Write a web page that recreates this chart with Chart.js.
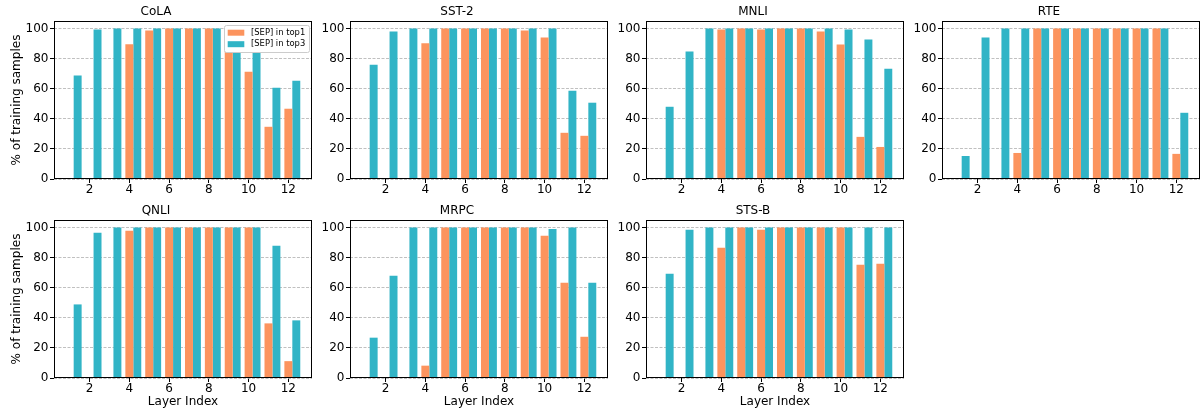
<!DOCTYPE html>
<html><head><meta charset="utf-8">
<script src="https://cdn.jsdelivr.net/npm/chart.js@4/dist/chart.umd.min.js"></script>
<style>
html,body{margin:0;padding:0;background:#fff;}
body{width:1204px;height:418px;position:relative;overflow:hidden;}
canvas{position:absolute;}
</style></head><body>
<script>
// ---- data ----
const layers = [1,2,3,4,5,6,7,8,9,10,11,12];
const xTicks = [2,4,6,8,10,12];
const yTicks = [0,20,40,60,80,100];
const seriesNames = ['[SEP] in top1','[SEP] in top3'];
const taskNames = ['CoLA','SST-2','MNLI','RTE','QNLI','MRPC','STS-B'];

const colaTop1 = [0,0,0,89.5,98.7,100,100,100,96,71.3,34.7,46.7];
const colaTop3 = [68.7,99.3,100,100,100,100,100,100,100,98,60.7,65.3];
const sst2Top1 = [0,0,0,90.2,100,100,100,100,98.7,94,30.7,28.7];
const sst2Top3 = [76,98,100,100,100,100,100,100,100,100,58.7,50.7];
const mnliTop1 = [0,0,0,99.3,100,99.3,100,100,98,89.3,28,21.3];
const mnliTop3 = [48,84.7,100,100,100,100,100,100,100,99.3,92.7,73.3];
const rteTop1 = [0,0,0,17.3,100,100,100,100,100,100,100,16.7];
const rteTop3 = [15.3,94,100,100,100,100,100,100,100,100,100,44];
const qnliTop1 = [0,0,0,97.8,100,100,100,100,100,100,36.3,11.2];
const qnliTop3 = [48.9,96.5,100,100,100,100,100,100,100,100,87.9,38.3];
const mrpcTop1 = [0,0,0,8.2,100,100,100,100,100,94.5,63.3,27.4];
const mrpcTop3 = [26.8,67.9,100,100,100,100,100,100,100,99.1,100,63.3];
const stsbTop1 = [0,0,0,86.5,100,98.5,100,100,100,100,75.2,75.9];
const stsbTop3 = [69.2,98.5,100,100,100,100,100,100,100,100,100,100];

const top1Series = [colaTop1, sst2Top1, mnliTop1, rteTop1, qnliTop1, mrpcTop1, stsbTop1];
const top3Series = [colaTop3, sst2Top3, mnliTop3, rteTop3, qnliTop3, mrpcTop3, stsbTop3];

// ---- style ----
const ORANGE = '#fc945e';
const TEAL = '#31b4c6';
const FAMILY = '"DejaVu Sans", "Liberation Sans", sans-serif';
const GROUP_SHIFT = 0.2; // top1 bar centred on the layer, top3 bar next to it

const framePlugin = {
  id: 'frame',
  afterDatasetsDraw(chart) {
    const {ctx, chartArea: a} = chart;
    ctx.save();
    ctx.strokeStyle = '#000';
    ctx.lineWidth = 1;
    const l = Math.round(a.left) + 0.5, t = Math.round(a.top) + 0.5;
    const r = Math.round(a.right) - 0.5, b = Math.round(a.bottom) - 0.5;
    ctx.strokeRect(l, t, r - l, b - t);
    ctx.restore();
  }
};

const boxLegend = {
  id: 'boxLegend',
  afterDraw(chart, args, opts) {
    if (!opts.show) return;
    const {ctx, chartArea: a} = chart;
    const w = 85, h = 27;
    const x = Math.round(a.right - 3 - w) + 0.5, y = Math.round(a.top + 4) + 0.5;
    ctx.save();
    ctx.beginPath();
    ctx.roundRect(x, y, w, h, 2);
    ctx.fillStyle = '#fff';
    ctx.fill();
    ctx.strokeStyle = '#cccccc';
    ctx.lineWidth = 1;
    ctx.stroke();
    ctx.font = '8.4px ' + FAMILY;
    ctx.textBaseline = 'middle';
    ctx.textAlign = 'left';
    chart.data.datasets.forEach((ds, i) => {
      const cy = y + 7.2 + i * 11.5;
      ctx.fillStyle = ds.backgroundColor;
      ctx.fillRect(x + 3.2, cy - 3, 16.6, 6);
      ctx.fillStyle = '#000';
      ctx.fillText(ds.label, x + 26.5, cy);
    });
    ctx.restore();
  }
};

const AX_W = 258, AX_H = 158;
const axLefts = [54, 350, 646, 942];
const axTops = [21, 220];
const canvasTops = [0, 199];
const canvasHeights = [200, 219];

taskNames.forEach((name, k) => {
  const row = Math.floor(k / 4), col = k % 4;
  const axLeft = axLefts[col], axTop = axTops[row];
  const cLeft = col === 0 ? 0 : axLeft - 44;
  const cTop = canvasTops[row];
  const lPad = axLeft - cLeft;
  const tPad = axTop - cTop;
  const cW = lPad + AX_W + 4;
  const cH = canvasHeights[row];
  const bPad = cH - tPad - AX_H;
  const rPad = cW - lPad - AX_W;

  const cv = document.createElement('canvas');
  cv.width = cW; cv.height = cH;
  cv.style.left = cLeft + 'px'; cv.style.top = cTop + 'px';
  cv.style.width = cW + 'px'; cv.style.height = cH + 'px';
  document.body.appendChild(cv);

  const font = {family: FAMILY, size: 12, weight: 'normal'};
  const titleTop = tPad - 9 - 7.2;

  new Chart(cv, {
    type: 'bar',
    data: {
      labels: layers.map(l => l + GROUP_SHIFT),
      datasets: [
        {label: seriesNames[0], data: top1Series[k], backgroundColor: ORANGE, borderWidth: 0},
        {label: seriesNames[1], data: top3Series[k], backgroundColor: TEAL, borderWidth: 0}
      ]
    },
    plugins: [framePlugin, boxLegend],
    options: {
      responsive: false,
      animation: false,
      devicePixelRatio: 1,
      layout: {padding: {left: 0, top: 0, right: rPad, bottom: 0}},
      datasets: {bar: {categoryPercentage: 0.8, barPercentage: 1.0}},
      plugins: {
        legend: {display: false},
        tooltip: {enabled: false},
        boxLegend: {show: k === 0},
        title: {
          display: true, text: name, color: '#000', font: font,
          padding: {top: titleTop, bottom: tPad - titleTop - 14.4}
        }
      },
      scales: {
        x: {
          type: 'linear', min: 0.21, max: 13.19, offset: false,
          afterBuildTicks: s => { s.ticks = xTicks.map(v => ({value: v})); },
          afterFit: s => { s.height = bPad; },
          grid: {display: true, offset: false, drawOnChartArea: false, drawTicks: true,
                 tickLength: 4, tickColor: '#000', tickWidth: 1},
          border: {display: false},
          ticks: {color: '#000', font: font, padding: 0, maxRotation: 0, autoSkip: false,
                  callback: v => String(v)},
          title: {display: row === 1, text: 'Layer Index', color: '#000', font: font,
                  padding: {top: 0, bottom: 8.5}}
        },
        y: {
          min: 0, max: 105,
          afterBuildTicks: s => { s.ticks = yTicks.map(v => ({value: v})); },
          afterFit: s => { s.width = lPad; },
          grid: {color: '#b0b0b0', lineWidth: 0.8, drawTicks: true, tickLength: 4,
                 tickColor: '#000', tickWidth: 1},
          border: {display: false, dash: [3, 1.5]},
          ticks: {color: '#000', font: font, padding: 1.5, callback: v => String(v)},
          title: {display: col === 0, text: '% of training samples', color: '#000', font: font,
                  padding: {top: 9.4, bottom: 0}}
        }
      }
    }
  });
});
</script>
</body></html>
